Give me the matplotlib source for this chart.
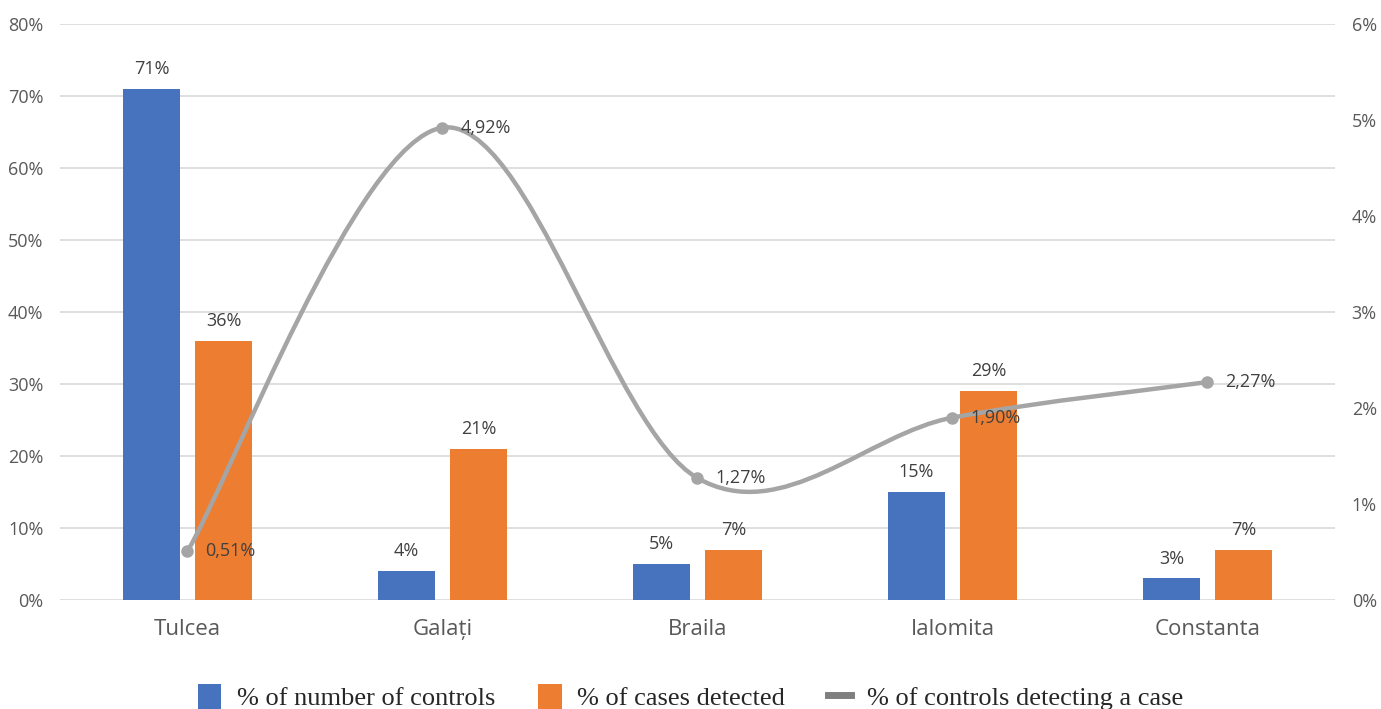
import numpy as np
import matplotlib
matplotlib.use("Agg")
import matplotlib.pyplot as plt
from matplotlib.path import Path
from matplotlib.patches import PathPatch, Patch
from matplotlib.lines import Line2D
from matplotlib.ticker import FuncFormatter

regions = ["Tulcea", "Galați", "Braila", "Ialomita", "Constanta"]
pct_controls = [71, 4, 5, 15, 3]
pct_cases = [36, 21, 7, 29, 7]
pct_detecting = [0.51, 4.92, 1.27, 1.90, 2.27]

blue = "#4772BE"
orange = "#ED7D31"
grey = "#A5A5A5"
txt = "#404040"
tick_col = "#595959"

plt.rcParams['font.family'] = ['Open Sans', 'DejaVu Sans']

fig = plt.figure(figsize=(13.81, 7.09), dpi=100)
ax = fig.add_axes([60 / 1381, 1 - 600 / 709, 1275 / 1381, 576 / 709])
ax2 = ax.twinx()

x = np.arange(len(regions))
w = 0.224
off = 0.141

b1 = ax.bar(x - off, pct_controls, w, color=blue, zorder=2)
b2 = ax.bar(x + off, pct_cases, w, color=orange, zorder=2)
for rect, v in list(zip(b1, pct_controls)) + list(zip(b2, pct_cases)):
    ax.text(rect.get_x() + rect.get_width() / 2, v + 1.5, f"{v}%",
            ha='center', va='bottom', fontsize=13, color=txt)

ax.set_xlim(-0.5, len(regions) - 0.5)
ax.set_ylim(0, 80)
ax.set_yticks(np.arange(0, 81, 10))
ax.yaxis.set_major_formatter(FuncFormatter(lambda v, p: f"{v:.0f}%"))
ax.grid(axis='y', color="#D9D9D9", linewidth=1.2, zorder=0)
ax.set_axisbelow(True)
ax.set_xticks(x)
ax.set_xticklabels(regions, fontsize=16, color=tick_col)
ax.tick_params(axis='x', length=0, pad=14)
ax.tick_params(axis='y', length=0, labelsize=13, labelcolor=tick_col, pad=12)

ax2.set_ylim(0, 6)
ax2.set_yticks(np.arange(0, 7, 1))
ax2.yaxis.set_major_formatter(FuncFormatter(lambda v, p: f"{v:.0f}%"))
ax2.tick_params(axis='y', length=0, labelsize=13, labelcolor=tick_col, pad=12)

for a in (ax, ax2):
    for s in a.spines.values():
        s.set_visible(False)

# smoothed line (Catmull-Rom style bezier, like Excel's smoothing)
pts = np.column_stack([x, pct_detecting]).astype(float)
n = len(pts)
verts = [tuple(pts[0])]
codes = [Path.MOVETO]
for i in range(n - 1):
    p0 = pts[max(i - 1, 0)]
    p1 = pts[i]
    p2 = pts[i + 1]
    p3 = pts[min(i + 2, n - 1)]
    c1 = p1 + (p2 - p0) / 6
    c2 = p2 - (p3 - p1) / 6
    verts += [tuple(c1), tuple(c2), tuple(p2)]
    codes += [Path.CURVE4] * 3
ax2.add_patch(PathPatch(Path(verts, codes), facecolor='none', edgecolor=grey,
                        linewidth=3.2, capstyle='round', zorder=3))
ax2.plot(x, pct_detecting, 'o', color=grey, markersize=8, zorder=4)
for xi, v in zip(x, pct_detecting):
    ax2.text(xi + 0.07, v, f"{v:.2f}%".replace('.', ','),
             ha='left', va='center', fontsize=13, color=txt, zorder=5)

handles = [Patch(facecolor=blue), Patch(facecolor=orange),
           Line2D([0], [0], color="#7F7F7F", linewidth=5)]
labels = ["% of number of controls", "% of cases detected",
          "% of controls detecting a case"]
fig.legend(handles, labels, loc='center', bbox_to_anchor=(0.5, 1 - 697 / 709),
           ncol=3, frameon=False, prop={'family': 'Liberation Serif', 'size': 19},
           labelcolor="#262626", handlelength=0.9, handleheight=1.1,
           columnspacing=1.6, handletextpad=0.6)

fig.savefig("out.png", dpi=100)
